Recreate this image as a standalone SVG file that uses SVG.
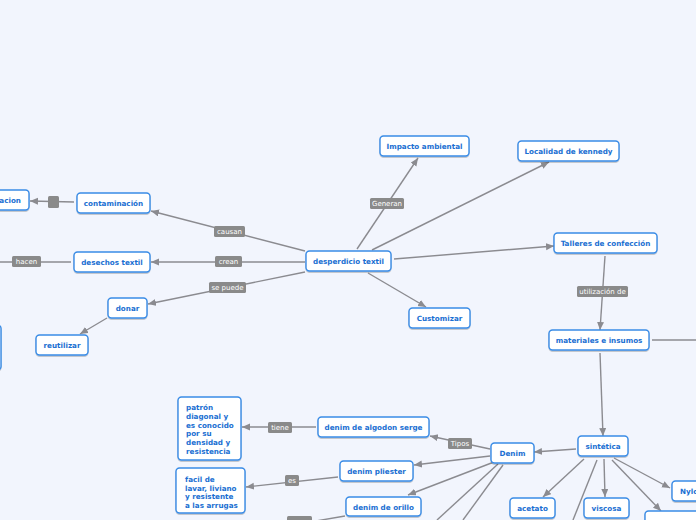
<svg xmlns="http://www.w3.org/2000/svg" width="696" height="520" viewBox="0 0 696 520">
<defs>
<marker id="ah" markerUnits="userSpaceOnUse" markerWidth="10" markerHeight="8" refX="8" refY="3.5" orient="auto">
<path d="M0,0 L8,3.5 L0,7 z" fill="#8b8b90"/>
</marker>
<filter id="sh" x="-10%" y="-10%" width="120%" height="140%"><feDropShadow dx="0" dy="1" stdDeviation="0.6" flood-color="#000" flood-opacity="0.25"/></filter>
</defs>
<style>
.n rect{fill:#fff;stroke:#3a8ce6;stroke-width:1.4;filter:url(#sh)}
.n text{font-family:"DejaVu Sans",Verdana,sans-serif;font-weight:bold;font-size:7.2px;fill:#1a6fd2;text-anchor:middle}
.n text.lft{text-anchor:start}
.c line{stroke:#8b8b90;stroke-width:1.4;fill:none}
.c line.a{marker-end:url(#ah)}
.l rect{fill:#8a8a8a}
.l text{font-family:"DejaVu Sans",Verdana,sans-serif;font-size:7px;fill:#fff;text-anchor:middle}
</style>
<rect width="696" height="520" fill="#f2f5fd"/>
<g id="connectors" class="c">
<line class="a" x1="357" y1="249" x2="418" y2="158"/>
<line class="a" x1="372" y1="250" x2="549" y2="162"/>
<line class="a" x1="394" y1="259" x2="554" y2="246"/>
<line class="a" x1="368" y1="273" x2="426" y2="307"/>
<line class="a" x1="305" y1="251" x2="151" y2="211"/>
<line class="a" x1="305" y1="262" x2="151" y2="262"/>
<line class="a" x1="305" y1="272" x2="148" y2="304"/>
<line class="a" x1="74" y1="202" x2="30" y2="201"/>
<line x1="71" y1="262" x2="0" y2="262"/>
<line class="a" x1="107" y1="318" x2="80" y2="334"/>
<line class="a" x1="605" y1="256" x2="600" y2="330"/>
<line x1="652" y1="340" x2="696" y2="340"/>
<line class="a" x1="600" y1="353" x2="603" y2="436"/>
<line class="a" x1="576" y1="449" x2="534" y2="452"/>
<line class="a" x1="490" y1="449" x2="430" y2="436"/>
<line class="a" x1="316" y1="427" x2="242" y2="427"/>
<line class="a" x1="490" y1="456" x2="414" y2="465"/>
<line class="a" x1="338" y1="477" x2="246" y2="487"/>
<line class="a" x1="494" y1="462" x2="408" y2="495"/>
<line x1="498" y1="464" x2="437" y2="520"/>
<line x1="503" y1="465" x2="463" y2="520"/>
<line x1="345" y1="516" x2="310" y2="522"/>
<line class="a" x1="584" y1="459" x2="543" y2="497"/>
<line class="a" x1="604" y1="459" x2="605" y2="497"/>
<line class="a" x1="614" y1="458" x2="670" y2="488"/>
<line class="a" x1="612" y1="460" x2="661" y2="511"/>
<line x1="597" y1="460" x2="573" y2="520"/>
</g>
<g id="labels">
<g class="l"><rect x="370" y="198" width="34" height="11" rx="1.5"/><text x="387" y="206">Generan</text></g>
<g class="l"><rect x="214" y="226" width="31" height="11" rx="1.5"/><text x="229.5" y="234">causan</text></g>
<g class="l"><rect x="215" y="256" width="27" height="11" rx="1.5"/><text x="228.5" y="264">crean</text></g>
<g class="l"><rect x="209" y="282" width="37" height="11" rx="1.5"/><text x="227.5" y="290">se puede</text></g>
<g class="l"><rect x="48" y="196" width="11" height="12" rx="1.5"/></g>
<g class="l"><rect x="12" y="256" width="29" height="11" rx="1.5"/><text x="26.5" y="264">hacen</text></g>
<g class="l"><rect x="577" y="286" width="51" height="11" rx="1.5"/><text x="602.5" y="294">utilización de</text></g>
<g class="l"><rect x="448" y="438" width="24" height="11" rx="1.5"/><text x="460" y="446">Tipos</text></g>
<g class="l"><rect x="268" y="422" width="24" height="11" rx="1.5"/><text x="280" y="430">tiene</text></g>
<g class="l"><rect x="285" y="475" width="14" height="11" rx="1.5"/><text x="292" y="483">es</text></g>
<g class="l"><rect x="287" y="516" width="25" height="11" rx="1.5"/></g>
</g>
<g id="desperdicio" class="n"><rect x="306" y="251" width="85" height="20" rx="3.5"/><text x="348.5" y="264">desperdicio textil</text></g>
<g id="impacto" class="n"><rect x="380" y="136" width="89" height="20" rx="3.5"/><text x="424.5" y="149">Impacto ambiental</text></g>
<g id="localidad" class="n"><rect x="518" y="141" width="101" height="20" rx="3.5"/><text x="568.5" y="154">Localidad de kennedy</text></g>
<g id="talleres" class="n"><rect x="554" y="233" width="103" height="20" rx="3.5"/><text x="605.5" y="246">Talleres de confección</text></g>
<g id="customizar" class="n"><rect x="409" y="308" width="61" height="20" rx="3.5"/><text x="439.5" y="321">Customizar</text></g>
<g id="contaminacion" class="n"><rect x="77" y="193" width="73" height="20" rx="3.5"/><text x="113.5" y="206">contaminación</text></g>
<g id="acion" class="n"><rect x="-40" y="190" width="69" height="20" rx="3.5"/><text x="21" y="203" style="text-anchor:end">acion</text></g>
<g id="desechos" class="n"><rect x="74" y="252" width="76" height="20" rx="3.5"/><text x="112" y="265">desechos textil</text></g>
<g id="donar" class="n"><rect x="108" y="298" width="39" height="20" rx="3.5"/><text x="127.5" y="311">donar</text></g>
<g id="reutilizar" class="n"><rect x="36" y="335" width="52" height="20" rx="3.5"/><text x="62" y="348">reutilizar</text></g>
<g id="leftnode" class="n"><rect x="-60" y="325" width="61" height="45" rx="3.5"/></g>
<g id="materiales" class="n"><rect x="549" y="330" width="100" height="20" rx="3.5"/><text x="599" y="343">materiales e insumos</text></g>
<g id="sintetica" class="n"><rect x="578" y="436" width="50" height="20" rx="3.5"/><text x="603" y="449">sintética</text></g>
<g id="denim" class="n"><rect x="491" y="443" width="43" height="20" rx="3.5"/><text x="512.5" y="456">Denim</text></g>
<g id="serge" class="n"><rect x="318" y="417" width="111" height="20" rx="3.5"/><text x="373.5" y="430">denim de algodon serge</text></g>
<g id="patron" class="n"><rect x="178" y="397" width="63" height="63" rx="3.5"/><text class="lft" x="186" y="410">patrón</text><text class="lft" x="186" y="419">diagonal y</text><text class="lft" x="186" y="427.5">es conocido</text><text class="lft" x="186" y="436">por su</text><text class="lft" x="186" y="445">densidad y</text><text class="lft" x="186" y="453.5">resistencia</text></g>
<g id="pliester" class="n"><rect x="340" y="461" width="73" height="20" rx="3.5"/><text x="376.5" y="474">denim pliester</text></g>
<g id="facil" class="n"><rect x="176" y="468" width="69" height="45" rx="3.5"/><text class="lft" x="185" y="482">facil de</text><text class="lft" x="185" y="490.5">lavar, liviano</text><text class="lft" x="185" y="499">y resistente</text><text class="lft" x="185" y="507.5">a las arrugas</text></g>
<g id="orillo" class="n"><rect x="346" y="497" width="75" height="19" rx="3.5"/><text x="383.5" y="509.5">denim de orillo</text></g>
<g id="acetato" class="n"><rect x="510" y="498" width="45" height="20" rx="3.5"/><text x="532.5" y="511">acetato</text></g>
<g id="viscosa" class="n"><rect x="584" y="498" width="45" height="20" rx="3.5"/><text x="606.5" y="511">viscosa</text></g>
<g id="nylon" class="n"><rect x="672" y="481" width="50" height="20" rx="3.5"/><text class="lft" x="680" y="494">Nylon</text></g>
<g id="bottomnode" class="n"><rect x="645" y="511" width="55" height="20" rx="3.5"/></g>
</svg>
